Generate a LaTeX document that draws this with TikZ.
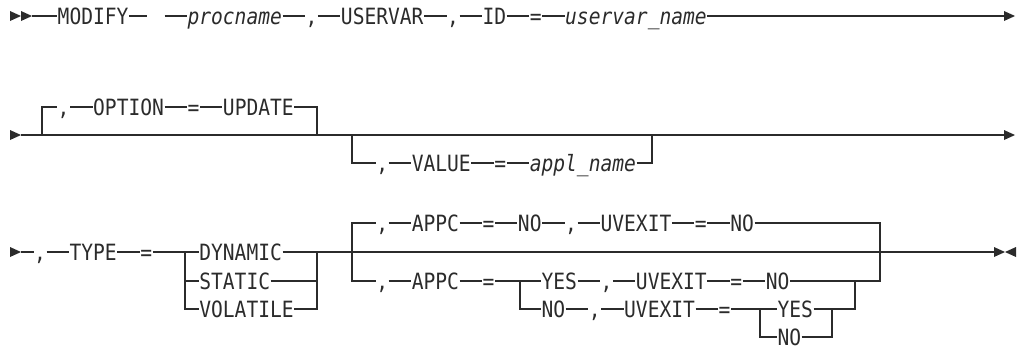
\documentclass[tikz,border=0pt]{standalone}
\usepackage{fontspec}
\newfontfamily\railfont[FakeStretch=0.875]{DejaVu Sans Mono}
\definecolor{ink}{HTML}{2B2B2B}
% cell positions of the text grid, in px
\newcommand\cx[1]{10+11.8*#1}
\newcommand\tipR[1]{\fill (#1) -- ++(-11,-5) -- ++(0,10) -- cycle;}
\newcommand\tipL[1]{\fill (#1) -- ++(11,-5) -- ++(0,10) -- cycle;}
\begin{document}
\begin{tikzpicture}[x=0.5pt,y=-0.5pt,line width=0.55pt,color=ink,
  tok/.style={inner sep=0pt,anchor=west,text height=8.15pt,text depth=0pt,
    font={\railfont\fontsize{11.2pt}{13pt}\selectfont}},
  var/.style={tok,font={\railfont\itshape\fontsize{11.2pt}{13pt}\selectfont}}]
\useasboundingbox (0,0) rectangle (1018,345);

% first line
\tipR{21,16} \tipR{32,16}
\coordinate (r1s) at (32,16);
\coordinate (gapL) at (\cx{11.6},16);
\coordinate (gapR) at (\cx{13.1},16);
\coordinate (r1e) at (1004,16);
\node[tok] (modify) at (\cx{4},16) {MODIFY};
\node[var] (procname) at (\cx{15},16) {procname};
\node[tok] (k1) at (\cx{25},16) {,};
\node[tok] (uservar) at (\cx{28},16) {USERVAR};
\node[tok] (k2) at (\cx{37},16) {,};
\node[tok] (id) at (\cx{40},16) {ID};
\node[tok] (eq1) at (\cx{44},16) {=};
\node[var] (uvname) at (\cx{47},16) {uservar\_name};
\draw (r1s) -- (modify) -- (gapL);
\draw (gapR) -- (procname) -- (k1) -- (uservar) -- (k2) -- (id) -- (eq1) -- (uvname) -- (r1e);
\tipR{1015,16}

% second line
\tipR{21,135}
\coordinate (r2s) at (21,135);
\coordinate (r2e) at (1004,135);
\coordinate (o1) at (42,135);
\coordinate (o2) at (317,135);
\coordinate (v1) at (352,135);
\coordinate (v2) at (652,135);
\node[tok] (oc) at (\cx{4},107) {,};
\node[tok] (option) at (\cx{7},107) {OPTION};
\node[tok] (oeq) at (\cx{15},107) {=};
\node[tok] (update) at (\cx{18},107) {UPDATE};
\node[tok] (vc) at (\cx{31},163) {,};
\node[tok] (value) at (\cx{34},163) {VALUE};
\node[tok] (veq) at (\cx{41},163) {=};
\node[var] (appl) at (\cx{44},163) {appl\_name};
\draw (r2s) -- (r2e);
\draw (o1) |- (oc);
\draw (oc) -- (option) -- (oeq) -- (update) -| (o2);
\draw (v1) |- (vc);
\draw (vc) -- (value) -- (veq) -- (appl) -| (v2);
\tipR{1015,135}

% third line
\tipR{21,252}
\coordinate (r3s) at (21,252);
\coordinate (r3e) at (994,252);
\coordinate (t1) at (185,252);
\coordinate (t2) at (317,252);
\node[tok] (tc) at (\cx{2},252) {,};
\node[tok] (type) at (\cx{5},252) {TYPE};
\node[tok] (teq) at (\cx{11},252) {=};
\node[tok] (dyn) at (\cx{16},252) {DYNAMIC};
\node[tok] (static) at (\cx{16},281) {STATIC};
\node[tok] (volatile) at (\cx{16},309) {VOLATILE};
\draw (r3s) -- (tc) -- (type) -- (teq) -- (dyn) -- (r3e);
\draw (t1) |- (volatile);
\draw (t1 |- static) -- (static);
\draw (static) -| (t2);
\draw (volatile) -| (t2);

% APPC / UVEXIT choices
\coordinate (a1) at (352,252);
\coordinate (a2) at (880,252);
\coordinate (b1) at (520,281);
\coordinate (b2) at (855,281);
\coordinate (c1) at (760,309);
\coordinate (c2) at (832,309);
\node[tok] (ac1) at (\cx{31},223) {,};
\node[tok] (appc1) at (\cx{34},223) {APPC};
\node[tok] (aeq1) at (\cx{40},223) {=};
\node[tok] (ano1) at (\cx{43},223) {NO};
\node[tok] (uc1) at (\cx{47},223) {,};
\node[tok] (uvx1) at (\cx{50},223) {UVEXIT};
\node[tok] (ueq1) at (\cx{58},223) {=};
\node[tok] (uno1) at (\cx{61},223) {NO};
\node[tok] (ac2) at (\cx{31},281) {,};
\node[tok] (appc2) at (\cx{34},281) {APPC};
\node[tok] (aeq2) at (\cx{40},281) {=};
\node[tok] (ayes) at (\cx{45},281) {YES};
\node[tok] (uc2) at (\cx{50},281) {,};
\node[tok] (uvx2) at (\cx{53},281) {UVEXIT};
\node[tok] (ueq2) at (\cx{61},281) {=};
\node[tok] (uno2) at (\cx{64},281) {NO};
\node[tok] (ano2) at (\cx{45},309) {NO};
\node[tok] (uc3) at (\cx{49},309) {,};
\node[tok] (uvx3) at (\cx{52},309) {UVEXIT};
\node[tok] (ueq3) at (\cx{60},309) {=};
\node[tok] (cyes) at (\cx{65},309) {YES};
\node[tok] (cno) at (\cx{65},337) {NO};
\draw (ac1) -| (a1) |- (ac2);
\draw (ac1) -- (appc1) -- (aeq1) -- (ano1) -- (uc1) -- (uvx1) -- (ueq1) -- (uno1) -| (a2);
\draw (ac2) -- (appc2) -- (aeq2) -- (b1) -- (ayes);
\draw (b1) |- (ano2);
\draw (ayes) -- (uc2) -- (uvx2) -- (ueq2) -- (uno2) -| (a2);
\draw (ano2) -- (uc3) -- (uvx3) -- (ueq3) -- (c1) -- (cyes) -| (b2);
\draw (c1) |- (cno);
\draw (cno) -| (c2);
\coordinate (d1) at (885,252);
\coordinate (d2) at (908,252);
\draw[line width=1.3pt] (d1) -- (d2);
\tipR{1005,252} \tipL{1005,252}
\end{tikzpicture}
\end{document}
